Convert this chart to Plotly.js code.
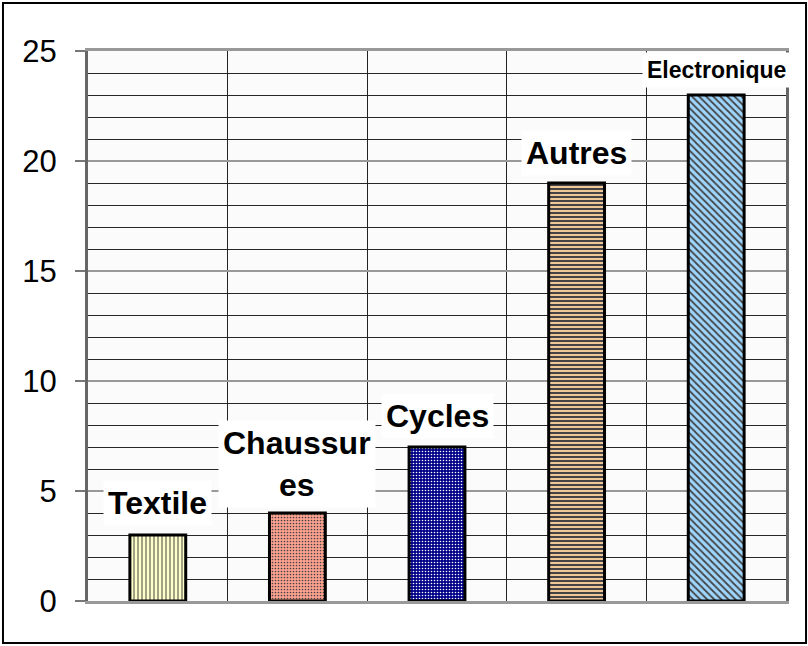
<!DOCTYPE html>
<html>
<head>
<meta charset="utf-8">
<script src="https://cdn.plot.ly/plotly-3.0.1.min.js"></script>
<style>
  html, body { margin: 0; padding: 0; background: #ffffff; }
  #chart { width: 808px; height: 646px; }
</style>
</head>
<body>
<div id="chart"></div>
<script>
// ---- data ----
var categories = ['Textile', 'Chaussures', 'Cycles', 'Autres', 'Electronique'];
var values = [3, 4, 7, 19, 23];
var labelTexts = ['Textile', 'Chaussur<br>es', 'Cycles', 'Autres', 'Electronique'];
var yTickValues = [0, 5, 10, 15, 20, 25];

// ---- styles ----
var barBg = ['#ffffc8', '#ffa290', '#000088', '#f0c898', '#9ed6ff'];
var patFg = ['#d0d0ff', '#f48474', '#ffffff', '#b00000', '#1898b2'];
var patShape = ['|', '.', '.', '-', '\\'];
var patSize = [4, 3, 3, 4, 5];
var patSolid = [0.25, 0.25, 0.22, 0.5, 0.35];
var labelSize = [32, 32, 32, 32, 23];
var labelShift = [32, 49, 31, 30, 25];

var trace = {
  type: 'bar',
  x: categories,
  y: values,
  width: 0.4,
  marker: {
    color: barBg,
    opacity: 1,
    line: { color: '#000000', width: 3 },
    pattern: {
      shape: patShape,
      fgcolor: patFg,
      fgopacity: 1,
      size: patSize,
      solidity: patSolid,
      fillmode: 'overlay'
    }
  },
  hoverinfo: 'none'
};

var annotations = categories.map(function (c, i) {
  return {
    x: c,
    y: values[i],
    xref: 'x',
    yref: 'y',
    text: labelTexts[i],
    showarrow: false,
    yanchor: 'middle',
    xanchor: 'center',
    yshift: labelShift[i],
    bgcolor: '#ffffff',
    borderpad: 4,
    font: { family: '"Liberation Sans", Arial, sans-serif', size: labelSize[i], color: '#000000', weight: 'bold' }
  };
});

var layout = {
  width: 808,
  height: 646,
  margin: { l: 88, r: 22, t: 51, b: 45, pad: 0, autoexpand: false },
  paper_bgcolor: '#ffffff',
  plot_bgcolor: '#fbfbfb',
  showlegend: false,
  font: { family: '"Liberation Sans", Arial, sans-serif', color: '#000000' },
  xaxis: {
    type: 'category',
    range: [-0.5, categories.length - 0.5],
    tickson: 'boundaries',
    showticklabels: false,
    ticks: '',
    showgrid: true,
    gridcolor: '#222222',
    gridwidth: 1,
    showline: true,
    linecolor: '#999999',
    linewidth: 3,
    mirror: true,
    zeroline: false,
    fixedrange: true,
    automargin: false
  },
  yaxis: {
    range: [0, 25],
    tickvals: yTickValues,
    ticks: 'outside',
    ticklen: 10,
    tickwidth: 2,
    tickcolor: '#777777',
    ticklabelstandoff: 12,
    tickfont: { size: 31, color: '#000000' },
    showgrid: true,
    gridcolor: '#999999',
    gridwidth: 2,
    minor: { dtick: 1, showgrid: true, gridcolor: '#262626', gridwidth: 1, ticks: '' },
    showline: true,
    linecolor: '#666666',
    linewidth: 3,
    mirror: true,
    zeroline: false,
    fixedrange: true,
    automargin: false
  },
  annotations: annotations,
  shapes: [{
    type: 'rect',
    xref: 'paper', yref: 'paper',
    x0: -0.1218, x1: 1.0287, y0: -0.0764, y1: 1.0873,
    line: { color: '#000000', width: 2 },
    fillcolor: 'rgba(0,0,0,0)',
    layer: 'above'
  }]
};

Plotly.newPlot('chart', [trace], layout, { displayModeBar: false, staticPlot: true });
</script>
</body>
</html>
